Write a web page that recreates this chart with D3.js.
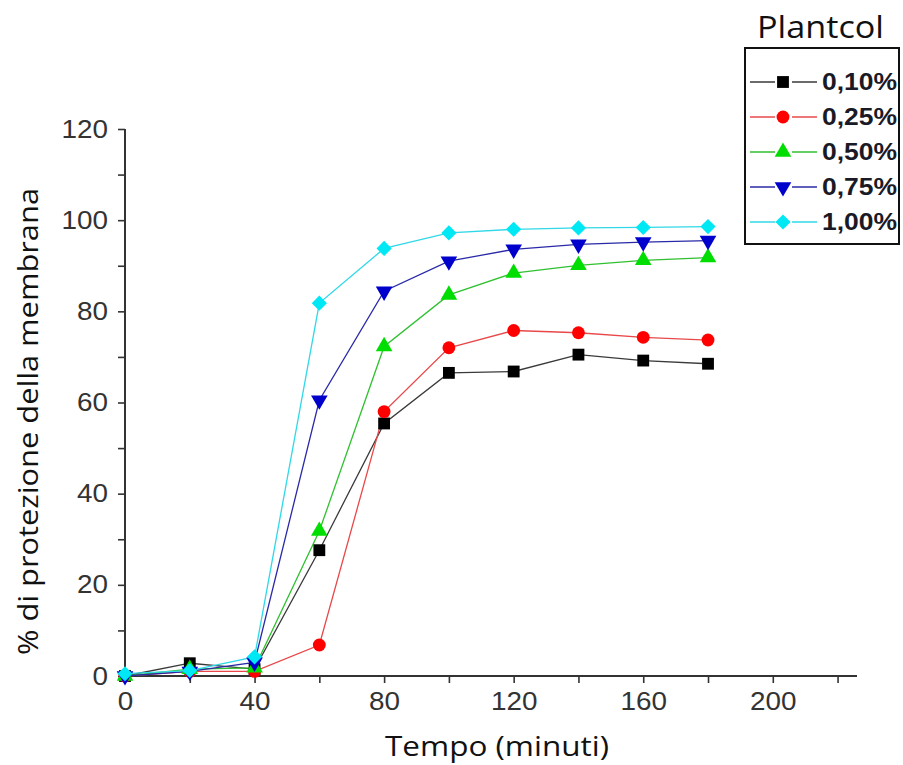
<!DOCTYPE html>
<html>
<head>
<meta charset="utf-8">
<script src="https://cdn.jsdelivr.net/npm/d3@7"></script>
<style>
  body { margin: 0; background: #fff; }
  svg text { font-family: "Liberation Sans", Arial, sans-serif; }
</style>
</head>
<body>
<div id="viz"></div>
<script>
// time points (minutes)
const tempo = [0, 20, 40, 60, 80, 100, 120, 140, 160, 180];

// % membrane protection per Plantcol concentration
const conc010 = [0, 2.8, 1.5, 27.6, 55.4, 66.5, 66.8, 70.5, 69.2, 68.5];
const conc025 = [0, 1.0, 1.0, 6.8, 58.0, 72.0, 75.8, 75.3, 74.3, 73.7];
const conc050 = [0, 1.5, 1.8, 31.8, 72.3, 83.6, 88.4, 90.1, 91.2, 91.8];
const conc075 = [0, 1.0, 3.0, 60.5, 84.4, 91.0, 93.6, 94.7, 95.2, 95.5];
const conc100 = [0.5, 1.2, 4.2, 81.8, 93.8, 97.2, 98.0, 98.3, 98.4, 98.6];

const seriesNames = ['0,10%', '0,25%', '0,50%', '0,75%', '1,00%'];
const xTicks = [0, 40, 80, 120, 160, 200];
const yTicks = [0, 20, 40, 60, 80, 100, 120];

const width = 903;
const height = 765;

const svg = d3.select('#viz').append('svg')
  .attr('width', width)
  .attr('height', height);

const xScale = d3.scaleLinear()
  .domain([0, 226])
  .range([125, 857]);

const yScale = d3.scaleLinear()
  .domain([0, 120])
  .range([676, 129]);

const series = [
  { name: seriesNames[0], values: conc010, line: '#3a3a3a', fill: '#000000', symbol: d3.symbolSquare, size: 140, rot: 0 },
  { name: seriesNames[1], values: conc025, line: '#e8484a', fill: '#ff0000', symbol: d3.symbolCircle, size: 130, rot: 0 },
  { name: seriesNames[2], values: conc050, line: '#30c030', fill: '#00dd00', symbol: d3.symbolTriangle, size: 120, rot: 0 },
  { name: seriesNames[3], values: conc075, line: '#2a2aa8', fill: '#0000cc', symbol: d3.symbolTriangle, size: 120, rot: 180 },
  { name: seriesNames[4], values: conc100, line: '#30d8e8', fill: '#00e8f4', symbol: d3.symbolSquare, size: 115, rot: 45 },
];

// axes
const axisColor = '#333';

const xAxis = svg.append('g')
  .attr('transform', `translate(0,${yScale(0)})`)
  .call(d3.axisBottom(xScale).tickValues(d3.range(0, 221, 20)).tickSize(7).tickFormat(d => xTicks.includes(d) ? d : ''));

const yAxis = svg.append('g')
  .attr('transform', `translate(${xScale(0)},0)`)
  .call(d3.axisLeft(yScale).tickValues(d3.range(0, 121, 10)).tickSize(7).tickFormat(d => yTicks.includes(d) ? d : ''));

[xAxis, yAxis].forEach((ax) => {
  ax.select('.domain').attr('stroke', axisColor).attr('stroke-width', 2);
  ax.selectAll('.tick line').attr('stroke', axisColor).attr('stroke-width', 1.6);
  ax.selectAll('.tick text')
    .attr('fill', '#333')
    .style('font-size', '25px')
    .style('font-family', '"Liberation Sans", Arial, sans-serif')
    .filter(d => (xTicks.includes(d) || yTicks.includes(d)))
    .attr('textLength', d => String(d).length * 15.5)
    .attr('lengthAdjust', 'spacingAndGlyphs');
});
xAxis.select('.domain').attr('d', `M${xScale(0)},0H${xScale(226)}`);
yAxis.select('.domain').attr('d', `M0,${yScale(120)}V${yScale(0)}`);
xAxis.selectAll('.tick text').attr('dy', '0.95em').attr('y', 10);
yAxis.selectAll('.tick text').attr('x', -17);

// lines and markers
const line = d3.line()
  .x((d, i) => xScale(tempo[i]))
  .y(d => yScale(d));

const g = svg.append('g');

series.forEach((s) => {
  g.append('path')
    .datum(s.values)
    .attr('fill', 'none')
    .attr('stroke', s.line)
    .attr('stroke-width', 1.3)
    .attr('d', line);
});

series.forEach((s) => {
  g.selectAll(null)
    .data(s.values)
    .enter()
    .append('path')
    .attr('d', d3.symbol(s.symbol, s.size))
    .attr('transform', (d, i) => `translate(${xScale(tempo[i])},${yScale(d)}) rotate(${s.rot})`)
    .attr('fill', s.fill);
});

// axis titles
svg.append('text')
  .attr('x', 385)
  .attr('y', 756)
  .attr('textLength', 224)
  .attr('lengthAdjust', 'spacingAndGlyphs')
  .style('font-family', '"Open Sans", sans-serif')
  .style('font-size', '28px')
  .attr('fill', '#111')
  .text('Tempo (minuti)');

svg.append('text')
  .attr('transform', 'translate(38,655) rotate(-90)')
  .attr('textLength', 467)
  .attr('lengthAdjust', 'spacingAndGlyphs')
  .style('font-family', '"Open Sans", sans-serif')
  .style('font-size', '27px')
  .attr('fill', '#111')
  .text('% di protezione della membrana');

// legend
svg.append('text')
  .attr('x', 757)
  .attr('y', 38)
  .attr('textLength', 127)
  .attr('lengthAdjust', 'spacingAndGlyphs')
  .style('font-family', '"Open Sans", sans-serif')
  .style('font-size', '31px')
  .attr('fill', '#111')
  .text('Plantcol');

svg.append('rect')
  .attr('x', 745)
  .attr('y', 48)
  .attr('width', 154)
  .attr('height', 196)
  .attr('fill', '#fff')
  .attr('stroke', '#111')
  .attr('stroke-width', 2);

const rowScale = d3.scalePoint()
  .domain(seriesNames)
  .range([82, 222]);

const legendRows = svg.append('g')
  .selectAll('g')
  .data(series)
  .enter()
  .append('g')
  .attr('transform', d => `translate(0,${rowScale(d.name)})`);

legendRows.append('line')
  .attr('x1', 750).attr('x2', 775)
  .attr('stroke', d => d.line).attr('stroke-width', 1.5);

legendRows.append('line')
  .attr('x1', 792).attr('x2', 817)
  .attr('stroke', d => d.line).attr('stroke-width', 1.5);

legendRows.append('path')
  .attr('d', d => d3.symbol(d.symbol, d.size)())
  .attr('transform', d => `translate(783,0) rotate(${d.rot})`)
  .attr('fill', d => d.fill);

legendRows.append('text')
  .attr('x', 822)
  .attr('y', 8)
  .attr('textLength', 75)
  .attr('lengthAdjust', 'spacingAndGlyphs')
  .style('font-size', '23px')
  .style('font-weight', 'bold')
  .attr('fill', '#1a1a26')
  .text(d => d.name);
</script>
</body>
</html>
